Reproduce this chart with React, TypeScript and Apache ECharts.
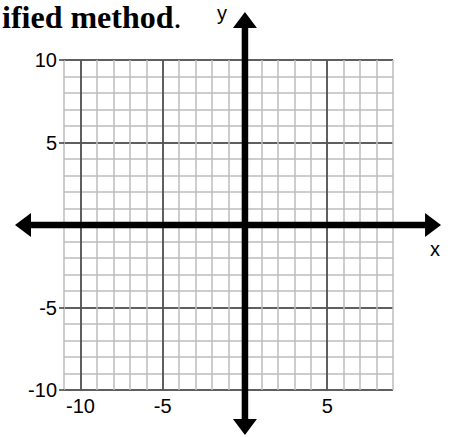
import React, { useEffect, useRef } from "react";
import * as echarts from "echarts";

// Axis ranges (graph-paper extent)
const xMin = -11;
const xMax = 9;
const yMin = -10;
const yMax = 10;

// Major (dark) vertical grid lines
const xMajorLines = [-10, -5, 5];
// Tick labels shown
const xTickLabels = [-10, -5, 5];
const yTickLabels = [-10, -5, 5, 10];

// Thick coordinate axes: [fromX, fromY, toX, toY] (arrow tips, in axis units)
const axisArrows = [
  [-13.98, 0, 11.92, 0],
  [0, 12.91, 0, -12.73],
];

const FONT = "'Liberation Sans', Arial, sans-serif";
const LIGHT = "#bdbdbd";
const DARK = "#3a3a3a";

export default function App() {
  const ref = useRef<HTMLDivElement>(null);

  useEffect(() => {
    if (!ref.current) return;
    const chart = echarts.init(ref.current, undefined, { renderer: "svg" });

    const HEAD_L = 16;
    const HEAD_W = 12;
    const SHAFT = 6.5;

    const renderArrow = (params: any, api: any) => {
      const p1 = api.coord([api.value(0), api.value(1)]);
      const p2 = api.coord([api.value(2), api.value(3)]);
      const dx = p2[0] - p1[0];
      const dy = p2[1] - p1[1];
      const len = Math.hypot(dx, dy) || 1;
      const ux = dx / len;
      const uy = dy / len;
      const nx = -uy;
      const ny = ux;
      const head = (tip: number[], sx: number, sy: number) => [
        [tip[0], tip[1]],
        [tip[0] - sx * HEAD_L + nx * HEAD_W, tip[1] - sy * HEAD_L + ny * HEAD_W],
        [tip[0] - sx * HEAD_L - nx * HEAD_W, tip[1] - sy * HEAD_L - ny * HEAD_W],
      ];
      return {
        type: "group",
        children: [
          {
            type: "line",
            shape: {
              x1: p1[0] + ux * (HEAD_L - 2),
              y1: p1[1] + uy * (HEAD_L - 2),
              x2: p2[0] - ux * (HEAD_L - 2),
              y2: p2[1] - uy * (HEAD_L - 2),
            },
            style: { stroke: "#000", lineWidth: SHAFT },
          },
          {
            type: "polygon",
            shape: { points: head(p1, -ux, -uy) },
            style: { fill: "#000" },
          },
          {
            type: "polygon",
            shape: { points: head(p2, ux, uy) },
            style: { fill: "#000" },
          },
        ],
      };
    };

    const option: any = {
      animation: false,
      grid: {
        left: 64,
        right: 58,
        top: 60,
        bottom: 47,
        containLabel: false,
        outerBoundsMode: "none",
      },
      xAxis: [
        {
          type: "value",
          min: xMin,
          max: xMax,
          interval: 1,
          axisLine: { show: false },
          axisTick: { show: false },
          splitLine: { show: true, lineStyle: { color: LIGHT, width: 1.5 } },
          axisLabel: {
            show: true,
            margin: 6,
            color: "#000",
            fontSize: 20,
            fontFamily: FONT,
            formatter: (v: number) =>
              xTickLabels.indexOf(v) >= 0 ? String(v) : "",
          },
        },
      ],
      yAxis: [
        {
          type: "value",
          min: yMin,
          max: yMax,
          interval: 1,
          axisLine: { show: false },
          axisTick: { show: false },
          axisLabel: { show: false },
          splitLine: { show: true, lineStyle: { color: LIGHT, width: 1.5 } },
        },
        {
          type: "value",
          min: yMin,
          max: yMax,
          interval: 5,
          position: "left",
          axisLine: { show: false },
          axisTick: {
            show: true,
            length: 5,
            lineStyle: { color: DARK, width: 1.5 },
          },
          splitLine: { show: true, lineStyle: { color: DARK, width: 1.5 } },
          axisLabel: {
            show: true,
            margin: 7,
            color: "#000",
            fontSize: 20,
            fontFamily: FONT,
            formatter: (v: number) =>
              yTickLabels.indexOf(v) >= 0 ? String(v) : "",
          },
        },
      ],
      series: [
        {
          type: "line",
          xAxisIndex: 0,
          yAxisIndex: 0,
          data: [],
          silent: true,
          markLine: {
            silent: true,
            symbol: "none",
            label: { show: false },
            lineStyle: { color: DARK, width: 1.5, type: "solid" },
            data: xMajorLines.map((v) => ({ xAxis: v })),
          },
        },
        {
          type: "custom",
          xAxisIndex: 0,
          yAxisIndex: 0,
          clip: false,
          silent: true,
          z: 5,
          data: axisArrows,
          encode: { x: [0, 2], y: [1, 3] },
          renderItem: renderArrow,
        },
      ],
      graphic: [
        {
          type: "text",
          left: 2,
          top: 1,
          silent: true,
          style: {
            text: "{b|ified method}{n|.}",
            fill: "#000",
            rich: {
              b: {
                fontFamily: "'Liberation Serif', 'Times New Roman', serif",
                fontWeight: "bold",
                fontSize: 32,
                lineHeight: 31,
                fill: "#000",
              },
              n: {
                fontFamily: "'Liberation Serif', 'Times New Roman', serif",
                fontWeight: "normal",
                fontSize: 32,
                lineHeight: 31,
                fill: "#000",
              },
            },
          },
        },
        {
          type: "text",
          x: 222,
          y: 13,
          silent: true,
          style: {
            text: "y",
            fill: "#000",
            font: `20px ${FONT}`,
            align: "center",
            verticalAlign: "middle",
          },
        },
        {
          type: "text",
          x: 435,
          y: 249,
          silent: true,
          style: {
            text: "x",
            fill: "#000",
            font: `20px ${FONT}`,
            align: "center",
            verticalAlign: "middle",
          },
        },
      ],
    };

    chart.setOption(option);
    return () => chart.dispose();
  }, []);

  return (
    <div
      ref={ref}
      style={{ position: "fixed", left: 0, top: 0, width: 451, height: 437, background: "#fff" }}
    />
  );
}
